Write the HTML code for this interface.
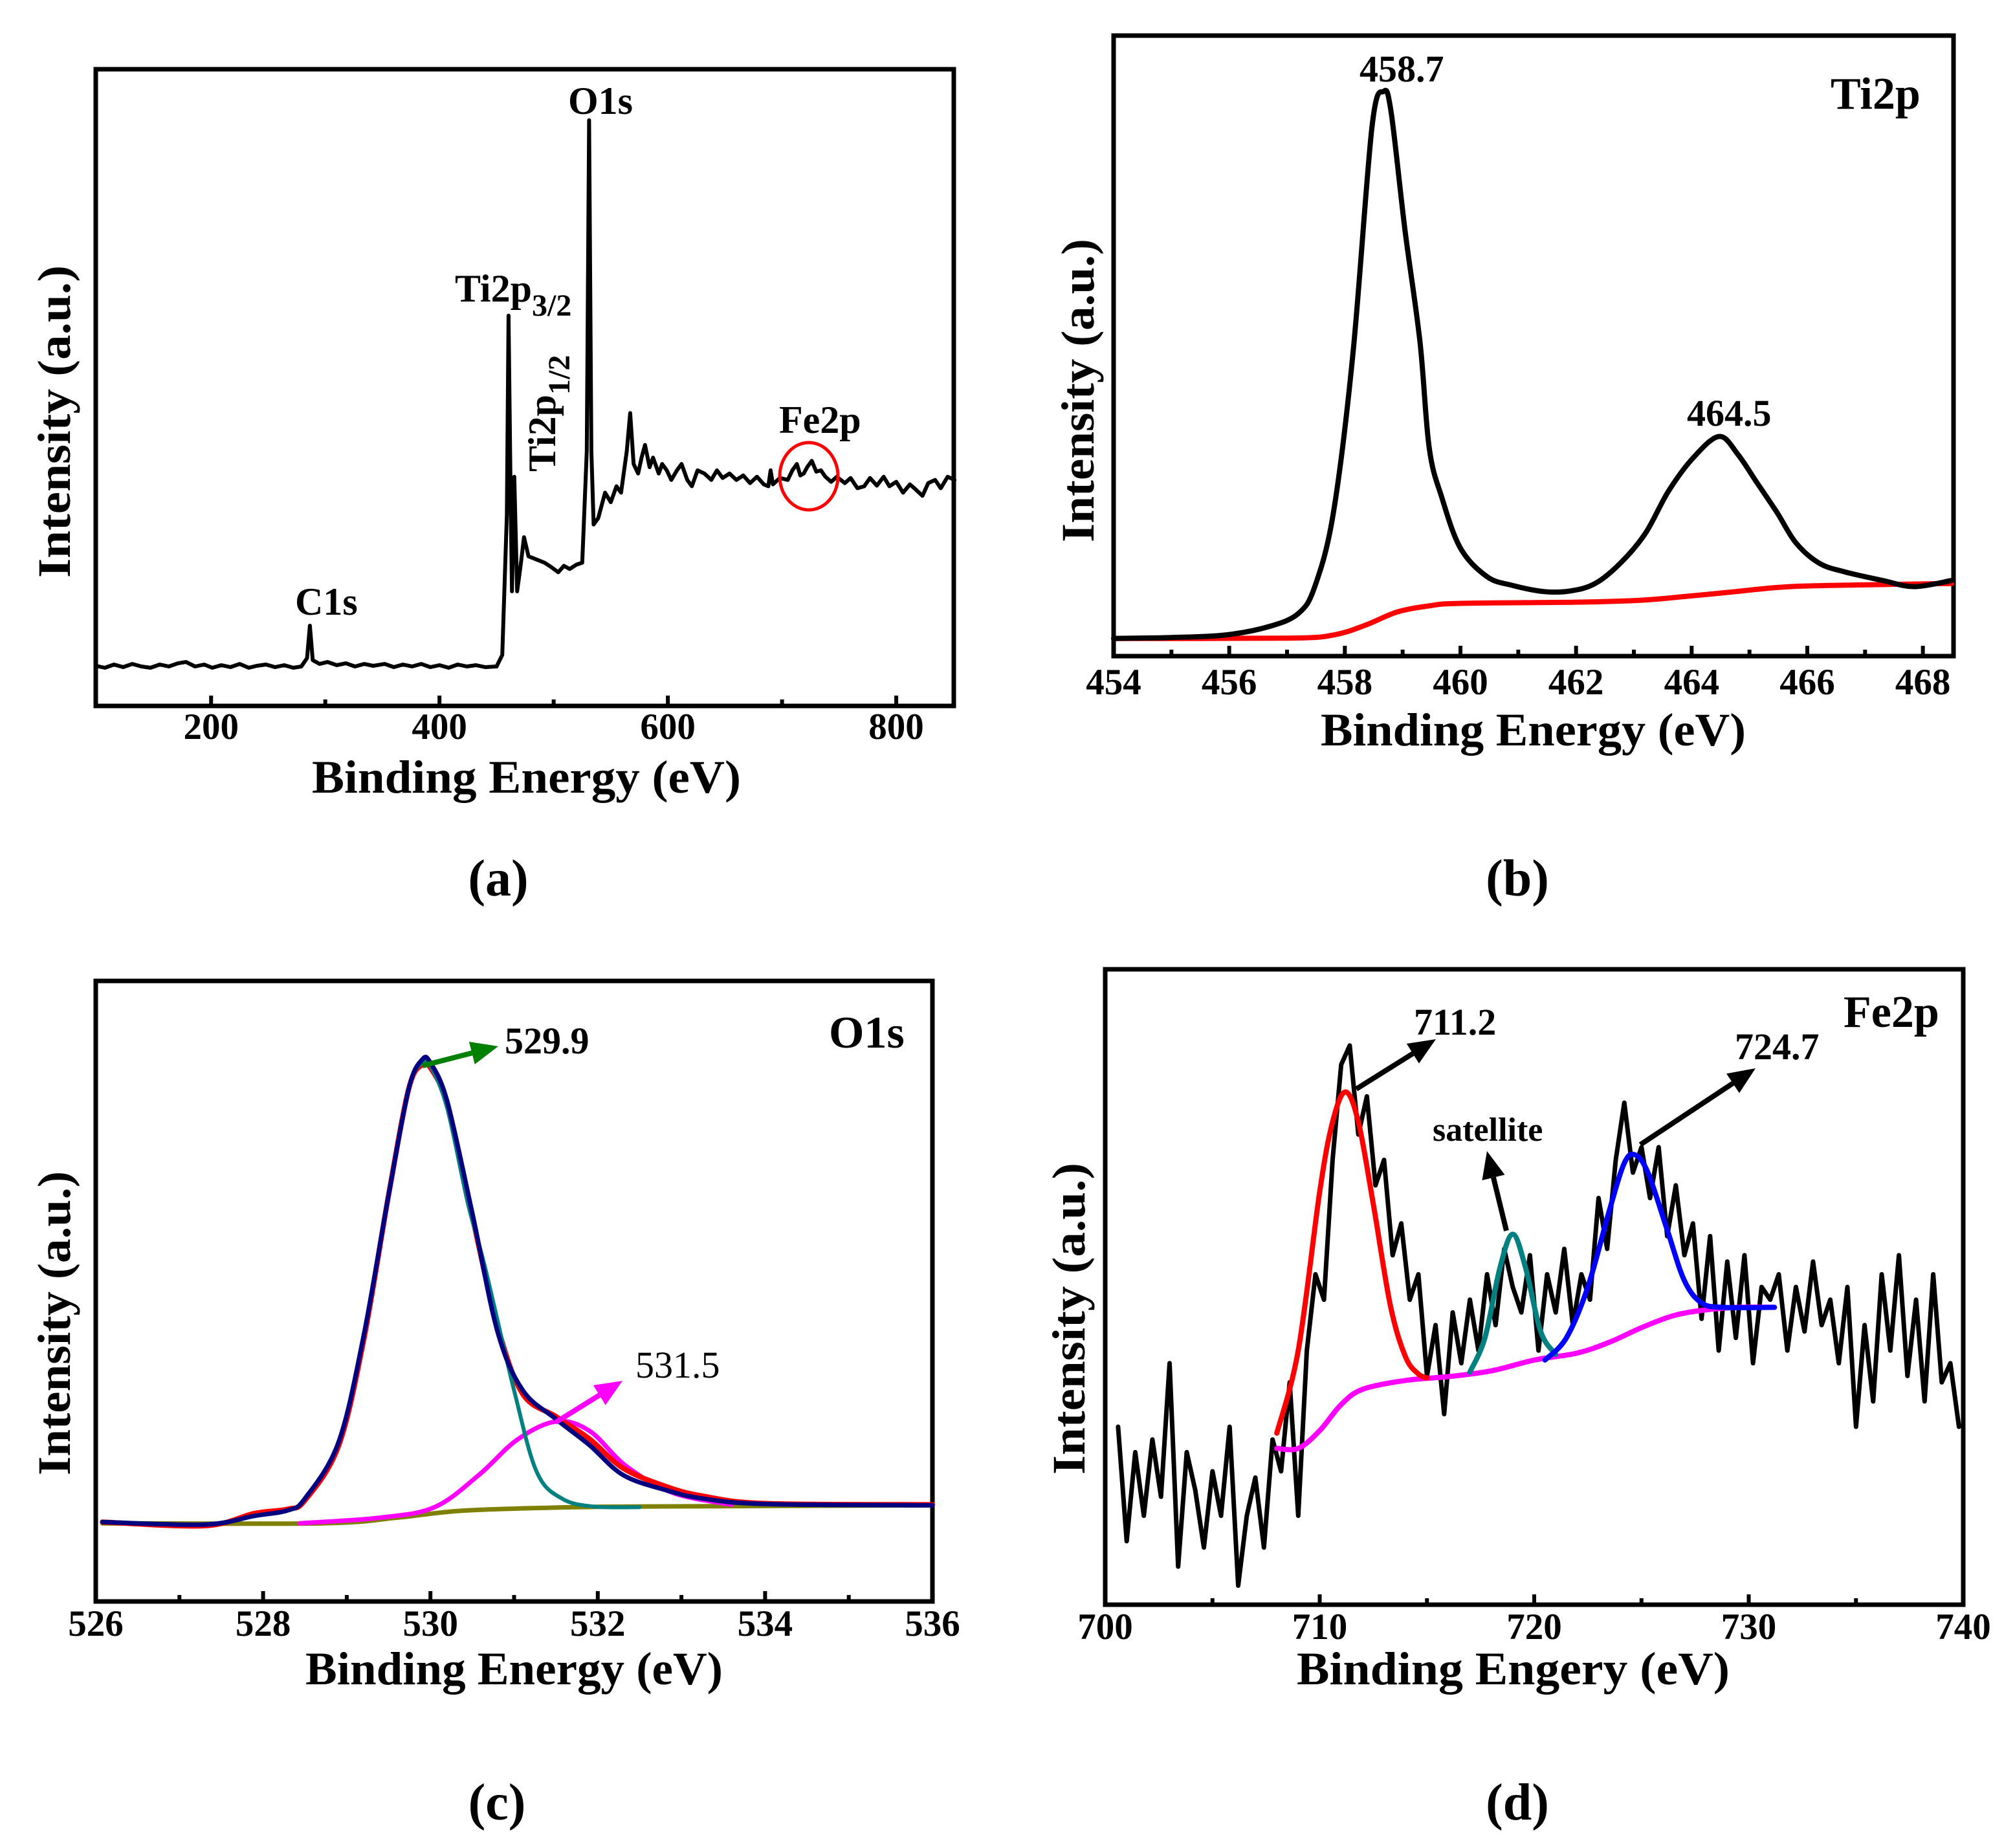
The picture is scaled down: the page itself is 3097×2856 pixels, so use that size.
<!DOCTYPE html>
<html><head><meta charset="utf-8"><style>
html,body{margin:0;padding:0;background:#fff}
svg{display:block}
text{font-family:"Liberation Serif",serif;font-weight:bold;fill:#000}
</style></head><body>
<svg id="fig" width="3097" height="2856" viewBox="0 0 3097 2856" xmlns="http://www.w3.org/2000/svg">
<rect x="0" y="0" width="3097" height="2856" fill="#fff"/>
<g id="layer"></g>
<!-- annotations panel a -->
<text x="878" y="176" font-size="60">O1s</text>
<text x="703" y="466" font-size="60">Ti2p<tspan font-size="48" dy="22">3/2</tspan></text>
<text transform="translate(858,729) rotate(-90)" font-size="60">Ti2p<tspan font-size="48" dy="22">1/2</tspan></text>
<text x="456" y="950" font-size="60">C1s</text>
<text x="1204" y="669" font-size="60">Fe2p</text>
<ellipse cx="1250" cy="736" rx="45" ry="52" fill="none" stroke="#ff0000" stroke-width="5"/>
<!-- panel b -->
<text x="2101" y="126" font-size="58">458.7</text>
<text x="2607" y="658" font-size="58">464.5</text>
<text x="2829" y="168" font-size="70">Ti2p</text>
<!-- panel c -->
<text x="780" y="1628" font-size="58">529.9</text>
<text x="1281" y="1619" font-size="70">O1s</text>
<text x="982" y="2129" font-size="58" style="font-weight:normal">531.5</text>
<!-- panel d -->
<text x="2185" y="1599" font-size="58">711.2</text>
<text x="2681" y="1637" font-size="58">724.7</text>
<text x="2214" y="1763" font-size="52">satellite</text>
<text x="2849" y="1587" font-size="70">Fe2p</text>
</svg>
<script>
// ===== data (intensity in % of plot height) =====
const surveyE = [99,107,115,123,131,139,147,155,163,171,178,186,194,201,209,217,225,233,240,248,256,264,272,279,284,286.5,289,295,302,310,318,326,334,342,352,360,368,376,384,392,400,408,416,424,432,440,450,455,459,460.5,462.5,463.5,465.5,468,471,474,478,485,492,498,504,509,514,520,525,529,531,533,535,539,545,550,555,559,564,567,570,574,577,580,584,587,592,595,599,603,608,612,617,621,626,632,638,643,648,654,660,666,672,678,684,688,690,692,698,705,709,713,716,719,722,726,730,734,738,743,748,755,760,766,772,777,783,789,794,800,806,812,817,823,828,834,839,845,851];
const surveyI = [6.3,6.0,6.5,6.1,6.6,6.2,6.0,6.5,6.2,6.7,6.9,6.2,6.5,6.0,6.4,6.1,6.6,6.0,6.3,6.5,6.1,6.4,6.0,6.2,7.5,12.6,7.2,6.6,6.9,6.4,6.7,6.2,6.6,6.3,6.6,6.1,6.5,6.2,6.6,6.1,6.4,6.0,6.5,6.2,6.4,6.1,6.2,8,30,61.3,30,18,36,18,22,26.5,23.5,23,22.5,21.8,21,22,21.5,22.2,22.5,40,92,40,28.5,29.5,33.5,32,34.5,33.5,40,46,38,36.5,39,41,37.5,39,36.5,38,37,35.5,37,38,35.5,34.5,37,36.5,35.5,37,35.8,36.5,35.5,36.2,35,36,34.8,34.5,37,34.8,35.8,35.5,37,38,36.2,36.5,37.5,38.5,36.8,37,36,35.2,36,35,35.8,34.2,34.5,35.8,34.6,36,34.5,35.2,33.5,34.8,34,33,35,35.5,34.2,36,35.5];

const tiE = [454,455,455.93,456.7,457.2,457.48,457.8,458.14,458.47,458.67,458.8,459.04,459.3,459.46,459.68,460.0,460.46,460.9,461.45,461.9,462.33,462.77,463.2,463.6,464.04,464.48,464.8,465.14,465.48,465.8,466.2,466.64,467.3,467.85,468.5];
const tiI = [2.85,3.0,3.4,4.8,6.9,11.2,23,48.7,85.3,91,87.7,68.7,50.6,33.5,25.5,17.4,12.8,11.4,10.4,10.5,11.7,15,19.8,26.6,32.1,35.4,32.5,27.8,23.1,18.3,15,13.6,12.2,11.2,12.2];
const tiBgE = [454,457.0,457.8,458.36,458.9,459.46,460,462,463.1,463.88,464.76,465.53,466.4,468.5];
const tiBgI = [2.85,2.9,3.4,5,7.1,8.1,8.5,8.7,9,9.6,10.4,11.1,11.4,11.7];

const oE = [526.08,527.3,527.9,528.3,528.5,528.9,529.2,529.5,529.74,529.9,530.0,530.2,530.5,530.8,531.1,531.5,531.9,532.3,532.8,533.25,534,536];
const oRaw = [12.8,12.2,14.2,14.9,16.3,25,42,65.5,82.6,86.5,86.0,80.0,62,44.5,33.5,29.8,26.2,21.5,18.6,17.0,15.8,15.6];
const oEnvelope = [12.8,12.4,13.8,14.7,16.6,25.6,42.7,65.5,82.6,87.3,86.8,80.6,62.6,43.6,34.1,29.4,25.2,20.4,18,16.6,15.7,15.5];
const oP1E = [526.08,527.3,527.9,528.3,528.5,528.9,529.2,529.5,529.74,529.9,530.0,530.2,530.45,530.65,531.0,531.27,531.57,531.95,532.5];
const oP1I = [12.8,12.4,13.8,14.7,16.6,25.6,42.7,65.5,82.6,86.8,86.3,79.5,64,54,34,20.9,16.6,15.3,15.2];
const oP2E = [528.44,529.4,530.05,530.58,531.04,531.5,531.9,532.34,532.9,533.6];
const oP2I = [12.6,13.5,15.2,20.4,26.1,29,27.5,21.8,17.5,15.6];
const oBgE = [526.08,528.7,529.6,530.35,531.4,532.5,536];
const oBgI = [12.6,12.6,13.5,14.6,15.1,15.3,15.5];

const feStart = 700.6, feStep = 0.4;
const feI = [28,10,24,14,26,17,38,6,24,18,9,21,14,28,3,14,20,9,26,
21,35,14,40,52,48,70,85,88,74,80,66,70,55,60,48,52,36,44,30,
46,38,48,40,52,44,56,50,46,55,40,52,46,56,44,52,48,64,56,70,
79,68,72,64,72,58,66,55,60,45,58,40,54,42,55,38,50,48,52,40,
50,43,54,44,48,38,50,28,44,32,52,40,55,36,48,32,52,35,38,28];
const fePk1E = [708,709,710,710.6,711.2,711.8,712.5,713.3,714,714.6,715];
const fePk1I = [27,40,65,76,80.7,76,63,47,39,36.3,35.7];
const feSatE = [717,717.7,718.4,719,719.6,720.3,721];
const feSatI = [36.6,42,53,58.3,53,43,39.4];
const fePk2E = [720.5,721.5,722.5,723.5,724.2,724.7,725.3,726.2,727,727.8,728.8,731.2];
const fePk2I = [38.5,42,50,62,69.5,70.8,68,59,51,47.5,46.8,46.8];
const feBgE = [708,709,710,711,712,714,716,718,720,722,723.5,725,726.5,728,729.5,731.2];
const feBgI = [24.6,24.6,27.4,31.5,33.9,35.3,35.9,36.8,38.5,39.6,41.3,43.6,45.5,46.4,46.8,46.8];

const ticksA = [200,400,600,800], minorA = [300,500,700];
const ticksB = [454,456,458,460,462,464,466,468], minorB = [455,457,459,461,463,465,467];
const ticksC = [526,528,530,532,534,536], minorC = [527,529,531,533,535];
const ticksD = [700,710,720,730,740], minorD = [705,715,725,735];

// ===== drawing =====
const NS = 'http://www.w3.org/2000/svg';
const layer = document.getElementById('layer');
function mk(tag, attrs, name){
  const el = document.createElementNS(NS, tag);
  for (const k in attrs) el.setAttribute(k, attrs[k]);
  
  
  layer.appendChild(el);
  return el;
}
function panel(p){
  p.sx = v => p.L + (v - p.x0) / (p.x1 - p.x0) * (p.R - p.L);
  p.sy = v => p.B - v / 100 * (p.B - p.T);
  mk('rect', {x:p.L, y:p.T, width:p.R-p.L, height:p.B-p.T, fill:'none', stroke:'#000', 'stroke-width':7}, p.id + '-plot-frame');
  p.ticks.forEach(t => {
    const x = p.sx(t);
    if (x > p.L + 3 && x < p.R - 3) mk('line', {x1:x, x2:x, y1:p.B, y2:p.B-16, stroke:'#000', 'stroke-width':6}, p.id + '-x-major-tick');
    const tx = mk('text', {x:x, y:p.tickY, 'font-size':57, 'text-anchor':'middle'}, p.id + '-x-tick-label');
    tx.textContent = String(t);
  });
  p.minor.forEach(t => {
    const x = p.sx(t);
    mk('line', {x1:x, x2:x, y1:p.B, y2:p.B-10, stroke:'#000', 'stroke-width':6}, p.id + '-x-minor-tick');
  });
  const xt = mk('text', {x:(p.xtA+p.xtB)/2, y:p.xtY, 'font-size':72, 'text-anchor':'middle', textLength:p.xtB-p.xtA, lengthAdjust:'spacingAndGlyphs'}, p.id + '-x-axis-title');
  xt.textContent = p.xtitle;
  const yt = mk('text', {transform:'translate(' + p.ytX + ',' + (p.ytA+p.ytB)/2 + ') rotate(-90)', 'font-size':72, 'text-anchor':'middle', 'dominant-baseline':'central', textLength:p.ytB-p.ytA, lengthAdjust:'spacingAndGlyphs'}, p.id + '-y-axis-title');
  yt.textContent = 'Intensity (a.u.)';
  const pl = mk('text', {x:p.lblX, y:p.lblY, 'font-size':80, 'text-anchor':'middle'}, p.id + '-panel-label');
  pl.textContent = p.label;
  return p;
}
function series(p, xs, ys, color, name, w, smooth){
  const pts = xs.map((x, i) => [p.sx(x), p.sy(ys[i])]);
  let d = 'M' + pts[0][0].toFixed(1) + ',' + pts[0][1].toFixed(1);
  for (let i = 1; i < pts.length; i++) {
    if (smooth) {
      const p0 = pts[Math.max(0, i-2)], p1 = pts[i-1], p2 = pts[i], p3 = pts[Math.min(pts.length-1, i+1)];
      const c1x = p1[0] + (p2[0]-p0[0])/6, c1y = p1[1] + (p2[1]-p0[1])/6;
      const c2x = p2[0] - (p3[0]-p1[0])/6, c2y = p2[1] - (p3[1]-p1[1])/6;
      d += 'C' + c1x.toFixed(1) + ',' + c1y.toFixed(1) + ' ' + c2x.toFixed(1) + ',' + c2y.toFixed(1) + ' ' + p2[0].toFixed(1) + ',' + p2[1].toFixed(1);
    } else {
      d += 'L' + pts[i][0].toFixed(1) + ',' + pts[i][1].toFixed(1);
    }
  }
  mk('path', {d:d, fill:'none', stroke:color, 'stroke-width':w || 7, 'stroke-linejoin':'round', 'stroke-linecap':'round'}, name);
}
function arrow(x1,y1,x2,y2,color,name){
  const a = Math.atan2(y2-y1, x2-x1), L = 42, W = 18;
  const bx = x2 - L*Math.cos(a), by = y2 - L*Math.sin(a);
  mk('line', {x1:x1, y1:y1, x2:bx, y2:by, stroke:color, 'stroke-width':8}, name + '-shaft');
  const px = -Math.sin(a)*W, py = Math.cos(a)*W;
  mk('polygon', {points:x2+','+y2+' '+(bx+px)+','+(by+py)+' '+(bx-px)+','+(by-py), fill:color}, name + '-head');
}

const A = panel({id:'survey', L:148, R:1474, T:107, B:1091, x0:99, x1:850.4, ticks:ticksA, minor:minorA, tickY:1142, xtitle:'Binding Energy (eV)', xtA:482, xtB:1145, xtY:1225, ytX:84, ytA:410, ytB:893, lblX:770, lblY:1384, label:'(a)'});
series(A, surveyE, surveyI, '#000', 'survey-spectrum-line', 6, false);

const Bp = panel({id:'ti2p', L:1721, R:3019, T:55, B:1014, x0:454, x1:468.53, ticks:ticksB, minor:minorB, tickY:1073, xtitle:'Binding Energy (eV)', xtA:2041, xtB:2698, xtY:1152, ytX:1666, ytA:369, ytB:838, lblX:2345, lblY:1384, label:'(b)'});
series(Bp, tiBgE, tiBgI, '#ff0000', 'ti2p-background-line', 8, true);
series(Bp, tiE, tiI, '#000', 'ti2p-spectrum-line', 8, true);

const C = panel({id:'o1s', L:148, R:1441, T:1516, B:2475, x0:526, x1:536, ticks:ticksC, minor:minorC, tickY:2528, xtitle:'Binding Energy (eV)', xtA:472, xtB:1117, xtY:2603, ytX:84, ytA:1810, ytB:2280, lblX:768, lblY:2812, label:'(c)'});
series(C, oBgE, oBgI, '#808000', 'o1s-background-line', 7, true);
series(C, oP2E, oP2I, '#ff00ff', 'o1s-peak-531-5-fit', 7, true);
series(C, oE, oRaw, '#ff0000', 'o1s-raw-spectrum', 8, true);
series(C, oP1E, oP1I, '#008080', 'o1s-peak-529-9-fit', 6, true);
series(C, oE, oEnvelope, '#000080', 'o1s-envelope-fit', 7, true);
arrow(653,1647,770,1617,'#008000','o1s-529-9-arrow');
arrow(859,2198,962,2134,'#ff00ff','o1s-531-5-arrow');

const D = panel({id:'fe2p', L:1708, R:3034, T:1498, B:2480, x0:700, x1:740, ticks:ticksD, minor:minorD, tickY:2533, xtitle:'Binding Engery (eV)', xtA:2004, xtB:2673, xtY:2603, ytX:1652, ytA:1797, ytB:2279, lblX:2345, lblY:2812, label:'(d)'});
const feE = feI.map((_, i) => feStart + feStep * i);
series(D, feE, feI, '#000', 'fe2p-spectrum-line', 7, false);
series(D, feBgE, feBgI, '#ff00ff', 'fe2p-background-line', 8, true);
series(D, fePk1E, fePk1I, '#ff0000', 'fe2p-711-fit', 8, true);
series(D, feSatE, feSatI, '#008080', 'fe2p-satellite-fit', 8, true);
series(D, fePk2E, fePk2I, '#0000ff', 'fe2p-724-fit', 8, true);
arrow(2096,1683,2219,1606,'#000','fe2p-711-arrow');
arrow(2535,1769,2713,1651,'#000','fe2p-724-arrow');
arrow(2328,1902,2298,1779,'#000','fe2p-satellite-arrow');
</script>
</body></html>
